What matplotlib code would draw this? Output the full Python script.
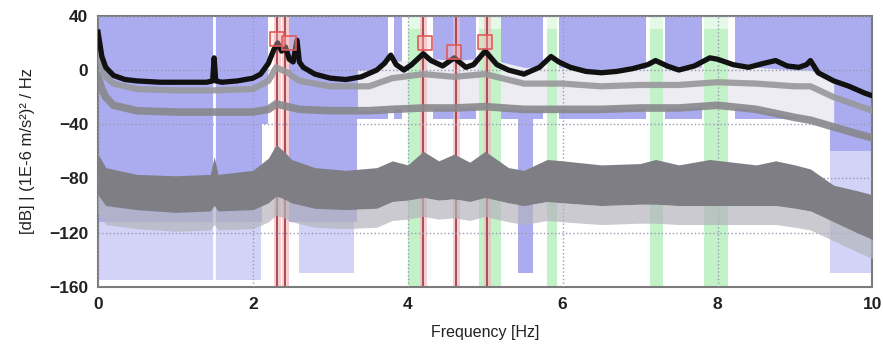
import matplotlib.pyplot as plt

# ---- data ----
freq_black = [0, 0.05, 0.1, 0.2, 0.35, 0.5, 0.8, 1.1, 1.4, 1.48, 1.5, 1.52, 1.6, 1.8,
              2.0, 2.1, 2.2, 2.27, 2.32, 2.37, 2.42, 2.47, 2.52, 2.57, 2.6, 2.65, 2.8,
              3.0, 3.2, 3.4, 3.6, 3.7, 3.78, 3.85, 3.95, 4.05, 4.2, 4.3, 4.45, 4.6,
              4.75, 4.85, 5.0, 5.15, 5.3, 5.5, 5.7, 5.85, 5.95, 6.1, 6.3, 6.5, 6.7,
              6.9, 7.1, 7.2, 7.35, 7.5, 7.7, 7.9, 8.0, 8.2, 8.4, 8.6, 8.75, 8.9, 9.05,
              9.15, 9.2, 9.3, 9.5, 9.7, 9.9, 10]
black_db = [28, 10, 2, -4, -7, -8, -9, -9, -9, -8, 9, -8, -9, -8,
            -6, -3, 5, 15, 20, 14, 17, 8, 6, 22, 6, 2, -3,
            -6, -7, -5, 0, 5, 11, 4, 0, 4, 12, 7, 3, 9,
            2, 4, 14, 4, 0, -3, 2, 10, 6, 2, -1, -2, -1,
            1, 4, 7, 3, 0, 3, 9, 8, 4, 2, 5, 7, 3, 2,
            4, 7, -2, -8, -12, -17, -19]

freq_gray = [0, 0.05, 0.1, 0.2, 0.5, 1.0, 1.5, 2.0, 2.2, 2.3, 2.45, 2.6, 3.0, 3.35,
             3.5, 3.8, 4.2, 4.6, 5.0, 5.5, 6.0, 6.5, 7.0, 7.5, 8.0, 8.5, 9.0, 9.2,
             9.5, 9.8, 10]
gray_mid_db = [15, 2, -5, -10, -14, -15, -15, -14, -8, 2, -2, -8, -12, -12,
               -12, -6, -3, -5, -3, -10, -10, -12, -11, -11, -9, -10, -12, -12,
               -20, -26, -30]
gray_low_db = [-5, -14, -20, -26, -30, -31, -31, -31, -29, -25, -27, -29, -30, -30,
               -30, -29, -28, -28, -27, -29, -29, -29, -28, -28, -26, -29, -35, -37,
               -42, -47, -50]

freq_band = [0, 0.1, 0.5, 1.0, 1.45, 1.5, 1.55, 2.0, 2.2, 2.3, 2.4, 2.5, 2.8, 3.2,
             3.6, 3.8, 4.0, 4.2, 4.4, 4.6, 4.8, 5.0, 5.3, 5.5, 5.8, 6.0, 6.5, 7.0,
             7.2, 7.5, 7.9, 8.2, 8.5, 8.75, 9.0, 9.2, 9.5, 9.8, 10]
band_top_db = [-62, -72, -77, -78, -77, -64, -77, -74, -65, -55, -60, -66, -72, -74,
               -72, -67, -70, -60, -67, -62, -68, -60, -72, -74, -66, -67, -70, -69,
               -66, -70, -66, -68, -70, -67, -70, -73, -85, -89, -92]
band_bot_db = [-92, -100, -103, -105, -104, -100, -104, -103, -98, -93, -95, -98, -102, -103,
               -102, -97, -96, -94, -96, -95, -97, -94, -98, -100, -97, -98, -100, -99,
               -99, -100, -100, -100, -100, -100, -102, -104, -112, -120, -125]

# lavender background spans (f0, f1, lower edge in dB)
lav_spans = [(0, 2.12, -112), (2.12, 2.2, -40), (2.47, 3.35, -112), (3.35, 3.74, -36),
             (3.82, 3.92, -36), (4.32, 4.88, -36), (5.14, 5.42, -36), (5.42, 5.62, -150),
             (5.62, 5.74, -36), (5.95, 7.08, -36), (7.32, 7.8, -36), (8.22, 9.45, -36),
             (9.45, 10, -60)]
lav_light_spans = [(0, 2.1, -155), (2.6, 3.3, -150), (9.45, 10, -150)]
green_spans = [(4.0, 4.18), (4.92, 5.2), (5.8, 5.93), (7.13, 7.3), (7.82, 8.14)]
pale_range = (3.35, 9.5)
red_lines = [2.31, 2.42, 4.2, 4.62, 5.02]
peak_f = [2.31, 2.47, 4.22, 4.6, 5.0]
peak_db = [23, 20, 20, 13, 21]

# ---- drawing ----
plt.rcParams["font.family"] = ["Liberation Sans", "DejaVu Sans"]
fig = plt.figure(figsize=(8.83, 3.52), dpi=100)
ax = fig.add_axes([0.111, 0.185, 0.877, 0.77])
ax.set_xlim(0, 10)
ax.set_ylim(-160, 40)

lav = "#abacf0"
for f0, f1, lo in lav_light_spans:
    ax.fill_between([f0, f1], lo, 40, color="#d2d3f6", lw=0, zorder=1)
for f0, f1, lo in lav_spans:
    ax.fill_between([f0, f1], lo, 40, color=lav, lw=0, zorder=1.2)
ax.axvline(1.5, color="white", lw=2, zorder=1.3)

# pale noisy zone between the upper traces on the right half
in_pale = [pale_range[0] <= f <= pale_range[1] for f in freq_gray]
ax.fill_between(freq_gray, gray_low_db, [g + 12 for g in gray_mid_db], where=in_pale,
                color="#ececf2", lw=0, zorder=1.35)

for f0, f1 in green_spans:
    ax.fill_between([f0, f1], -160, 30, color="#c4f2c8", lw=0, zorder=1.4)
    ax.fill_between([f0, f1], 30, 40, color="#e4f9e6", lw=0, zorder=1.4)

ax.grid(True, color="#9a9ab0", ls=":", lw=1, zorder=1.5)
ax.set_axisbelow(False)

for f in red_lines:
    ax.axvline(f, color="#f2b8c0", lw=5, alpha=0.7, zorder=2)
    ax.axvline(f, color="#9c3a3a", lw=1.2, zorder=2.1)

# lower noisy band
lower_spikes = [b - 14 for b in band_bot_db]
ax.fill_between(freq_band, lower_spikes, band_bot_db, color="#b4b4bc", lw=0, alpha=0.7, zorder=3)
ax.fill_between(freq_band, band_bot_db, band_top_db, color="#7e7e84", lw=0, zorder=3.1)

ax.plot(freq_gray, gray_low_db, color="#88888c", lw=5.5, alpha=0.9, zorder=4)
ax.plot(freq_gray, gray_mid_db, color="#98989c", lw=4.5, alpha=0.9, zorder=4.1)
ax.plot(freq_black, black_db, color="#111111", lw=3.8, zorder=5)

ax.scatter(peak_f, peak_db, marker="s", s=95, facecolor=(1, 0.75, 0.75, 0.35),
           edgecolor="#e05a5a", lw=1.2, zorder=6)

for s in ax.spines.values():
    s.set_color("#7a7a7a")
    s.set_linewidth(1.5)
ax.set_xticks([0, 2, 4, 6, 8, 10])
ax.set_yticks([40, 0, -40, -80, -120, -160])
ax.tick_params(length=0, pad=7, labelsize=12.5, labelcolor="#222222")
for lab in ax.get_xticklabels() + ax.get_yticklabels():
    lab.set_fontweight("bold")
ax.set_xlabel("Frequency [Hz]", fontsize=11.5, color="#222222", labelpad=10)
ax.set_ylabel("[dB] | (1E-6 m/s²)² / Hz", fontsize=12, color="#222222", labelpad=10)

fig.savefig("out.png", dpi=100)
